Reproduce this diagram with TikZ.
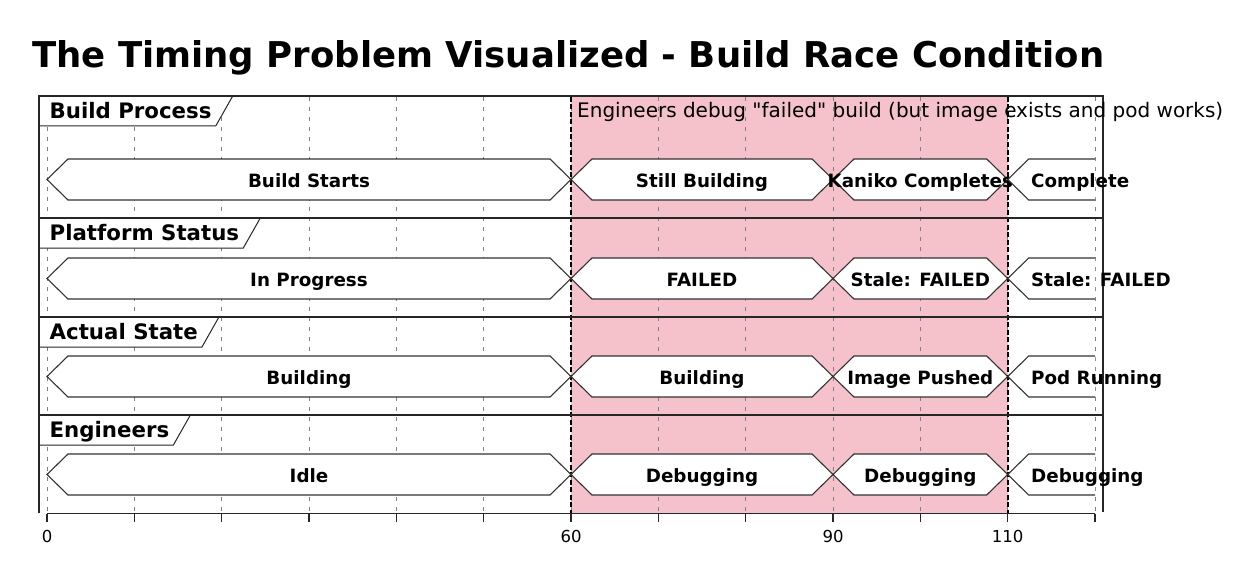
\documentclass[tikz,border=0pt]{standalone}
\usepackage{fontspec}
\setmainfont{DejaVu Sans}
\newfontfamily\notefont{DejaVu Sans}
\usetikzlibrary{calc}
\definecolor{hl}{HTML}{F5C2CB}
\pgfdeclarelayer{back}
\pgfdeclarelayer{mid}
\pgfsetlayers{back,mid,main}
\tikzset{
  statebox/.style={draw=black!80, line width=1.1pt, fill=white, line join=miter},
  stateline/.style={draw=black!80, line width=1.1pt, line join=miter},
  statetxt/.style={inner sep=0pt, anchor=base, font=\fontsize{18.3}{20}\selectfont\bfseries},
  rowlbl/.style={inner sep=0pt, anchor=base west, font=\fontsize{21.3}{24}\selectfont\bfseries},
  lblbox/.style={draw=black!85, line width=1pt, fill=white},
  frameline/.style={draw=black!85, line width=1.3pt},
  gridline/.style={draw=black!50, line width=0.8pt, dash pattern=on 4pt off 6pt},
  hlline/.style={draw=black, line width=1.8pt, dash pattern=on 5pt off 2.5pt},
  axistxt/.style={inner sep=0pt, anchor=base, font=\fontsize{16.5}{18}\selectfont},
  notetxt/.style={inner sep=0pt, anchor=base west, font=\notefont\fontsize{20}{22}\selectfont},
  titletxt/.style={inner sep=0pt, anchor=base west, font=\fontsize{35.5}{40}\selectfont\bfseries},
}
% segment: xa xb yc text name
\newcommand\stateseg[5]{%
  \draw[statebox] (#1,#3) -- (#1+21,#3-20.5) -- (#2-21,#3-20.5) -- (#2,#3)
    -- (#2-21,#3+20.5) -- (#1+21,#3+20.5) -- cycle;
  \node[statetxt] (#5) at ({(#1+#2)/2},#3+7.5) {#4};}
% open segment: xa yc text name
\newcommand\stateopen[4]{%
  \fill[white] (#1,#2) -- (#1+21,#2-20.5) -- (1095,#2-20.5) -- (1095,#2+20.5) -- (#1+21,#2+20.5) -- cycle;
  \draw[stateline] (1095,#2-20.5) -- (#1+21,#2-20.5) -- (#1,#2) -- (#1+21,#2+20.5) -- (1095,#2+20.5);
  \node[statetxt,anchor=base west] (#4) at (1031,#2+7.5) {#3};}
% row label: top name text
\newcommand\rowlabel[3]{%
  \node[rowlbl] (#2) at (49.5,#1+22.5) {#3};
  \coordinate (#2b) at (0,#1+30);
  \coordinate (#2t) at (0,#1);
  \begin{pgfonlayer}{mid}
    \draw[lblbox] (39,#1) -- (39,#1+30) -- ($(#2.east |- #2b)+(4,0)$) -- ($(#2.east |- #2t)+(21,0)$);
  \end{pgfonlayer}}
\begin{document}
\begin{tikzpicture}[x=1pt,y=-1pt]
\useasboundingbox (0,0) rectangle (1247,575);
% title
\node[titletxt] (title) at (32,68) {The Timing Problem Visualized - Build Race Condition};
% highlight and grid
\begin{pgfonlayer}{back}
  \fill[hl] (571,96) rectangle (1007.7,513);
  \foreach \k in {0,...,12}
    \draw[gridline] ({47+87.333*\k},97) -- ({47+87.333*\k},513);
  \draw[hlline] (571,97) -- (571,513);
  \draw[hlline] (1007.7,97) -- (1007.7,513);
\end{pgfonlayer}
% frame
\draw[frameline] (39,513) -- (39,96) -- (1103,96) -- (1103,512);
\draw[frameline] (39,218) -- (1103,218);
\draw[frameline] (39,317) -- (1103,317);
\draw[frameline] (39,415) -- (1103,415);
% row labels
\rowlabel{96}{lbp}{Build Process}
\rowlabel{218}{lps}{Platform Status}
\rowlabel{317}{las}{Actual State}
\rowlabel{415}{len}{Engineers}
% note
\node[notetxt] (note) at (577,118) {Engineers debug "failed" build (but image exists and pod works)};
% Build Process
\stateseg{47}{571}{179.5}{Build Starts}{b1}
\stateseg{571}{833}{179.5}{Still Building}{b2}
\stateseg{833}{1007.7}{179.5}{Kaniko Completes}{b3}
\stateopen{1007.7}{179.5}{Complete}{b4}
% Platform Status
\stateseg{47}{571}{278.5}{In Progress}{p1}
\stateseg{571}{833}{278.5}{FAILED}{p2}
\stateseg{833}{1007.7}{278.5}{Stale: FAILED}{p3}
\stateopen{1007.7}{278.5}{Stale: FAILED}{p4}
% Actual State
\stateseg{47}{571}{376.5}{Building}{a1}
\stateseg{571}{833}{376.5}{Building}{a2}
\stateseg{833}{1007.7}{376.5}{Image Pushed}{a3}
\stateopen{1007.7}{376.5}{Pod Running}{a4}
% Engineers
\stateseg{47}{571}{474.5}{Idle}{e1}
\stateseg{571}{833}{474.5}{Debugging}{e2}
\stateseg{833}{1007.7}{474.5}{Debugging}{e3}
\stateopen{1007.7}{474.5}{Debugging}{e4}
% axis
\draw[frameline] (47,513.5) -- (1095,513.5);
\foreach \k in {0,...,12}
  \draw[frameline] ({47+87.333*\k},513.5) -- ({47+87.333*\k},522);
\node[axistxt] (t0) at (47,542) {0};
\node[axistxt] (t60) at (571,542) {60};
\node[axistxt] (t90) at (833,542) {90};
\node[axistxt] (t110) at (1007.7,542) {110};
\end{tikzpicture}
\end{document}
